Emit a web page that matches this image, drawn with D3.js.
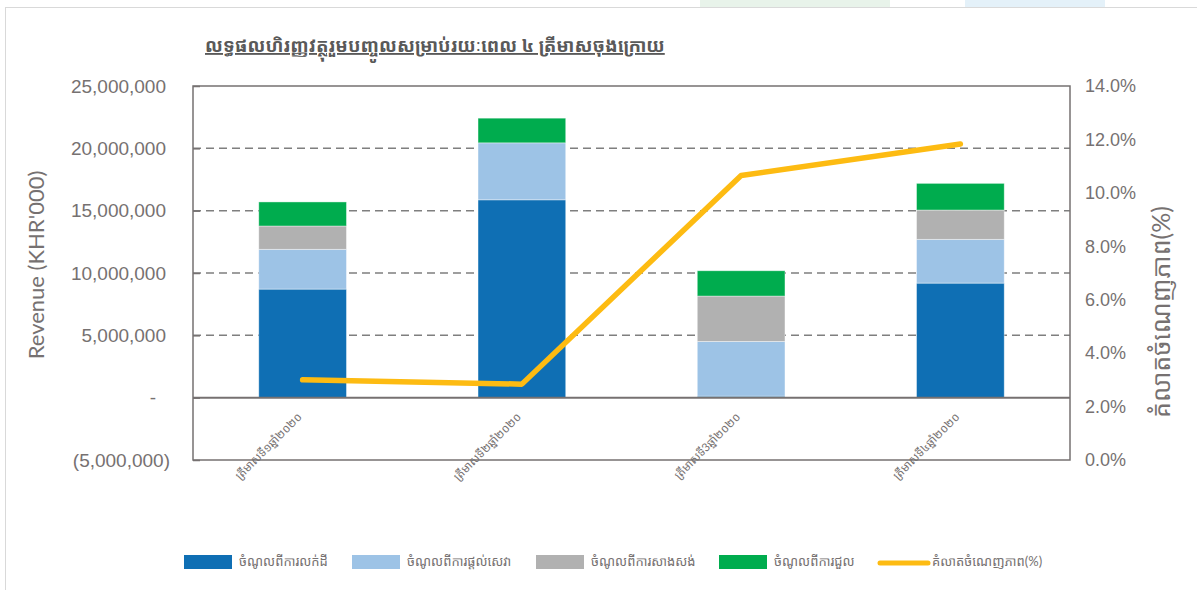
<!DOCTYPE html>
<html>
<head>
<meta charset="utf-8">
<script src="https://cdn.jsdelivr.net/npm/d3@7"></script>
<style>
  body { margin: 0; background: #fff; }
  svg { display: block; font-family: Lato, "Open Sans", "Noto Sans", "Noto Sans Khmer", sans-serif; }
</style>
</head>
<body>
<svg id="chart" width="1197" height="590"></svg>
<script>
// quarters
const quarters = ["ត្រីមាសទី១ឆ្នាំ២០២០", "ត្រីមាសទី២ឆ្នាំ២០២០", "ត្រីមាសទី3ឆ្នាំ២០២០", "ត្រីមាសទី៤ឆ្នាំ២០២០"];

// revenue series (KHR'000)
const seriesNames = ["ចំណូលពីការលក់ដី", "ចំណូលពីការផ្តល់សេវា", "ចំណូលពីការសាងសង់", "ចំណូលពីការជួល"];
const landSales = [8710000, 15870000, 120000, 9190000];
const services = [3190000, 4570000, 4390000, 3510000];
const construction = [1870000, 0, 3640000, 2350000];
const rental = [1930000, 1980000, 2030000, 2140000];
const seriesColors = ["#0f6fb4", "#9dc3e6", "#b1b1b1", "#00ac4e"];

// margin line (%)
const lineName = "គំលាតចំណេញភាព(%)";
const margins = [0.030, 0.0284, 0.1065, 0.1183];

const leftTicks = [-5000000, 0, 5000000, 10000000, 15000000, 20000000, 25000000];
const rightTicks = [0, 0.02, 0.04, 0.06, 0.08, 0.10, 0.12, 0.14];

const svg = d3.select("#chart");
const textCol = "#767171";

// background decoration + card frame
svg.append("rect").attr("x", 700).attr("y", 0).attr("width", 190).attr("height", 7).attr("fill", "#e8f3ea");
svg.append("rect").attr("x", 965).attr("y", 0).attr("width", 140).attr("height", 7).attr("fill", "#e4f1f9");
svg.append("rect").attr("x", 5.5).attr("y", 7.5).attr("width", 1200).attr("height", 600)
  .attr("fill", "#fff").attr("stroke", "#d9d9d9");

const L = 193, R = 1070, T = 86, B = 460;

const x = d3.scaleBand().domain(quarters).range([L, R]).paddingInner(0.6).paddingOuter(0.3);
const y = d3.scaleLinear().domain([-5000000, 25000000]).range([B, T]);
const y2 = d3.scaleLinear().domain([0, 0.14]).range([B, T]);

// gridlines
svg.append("g")
  .selectAll("line")
  .data(leftTicks.filter(d => d > 0 && d < 25000000))
  .join("line")
  .attr("x1", L).attr("x2", R)
  .attr("y1", d => y(d)).attr("y2", d => y(d))
  .attr("stroke", "#7f7f7f").attr("stroke-width", 1.5).attr("stroke-dasharray", "8,5");

// frame
svg.append("rect").attr("x", L).attr("y", T).attr("width", R - L).attr("height", B - T)
  .attr("fill", "none").attr("stroke", "#767171").attr("stroke-width", 1.5);

// stacked bars
const rows = quarters.map((q, i) => ({ q, a: landSales[i], b: services[i], c: construction[i], d: rental[i] }));
const stack = d3.stack().keys(["a", "b", "c", "d"]);
const layers = stack(rows);

svg.append("g")
  .selectAll("g")
  .data(layers)
  .join("g")
  .attr("fill", (d, i) => seriesColors[i])
  .selectAll("rect")
  .data(d => d)
  .join("rect")
  .attr("x", d => x(d.data.q))
  .attr("width", x.bandwidth())
  .attr("y", d => y(d[1]))
  .attr("height", d => Math.max(0, y(d[0]) - y(d[1])))
  .attr("stroke", "#ffffff").attr("stroke-opacity", 0.5).attr("stroke-width", 0.8);

// zero line
svg.append("line").attr("x1", L).attr("x2", R).attr("y1", y(0)).attr("y2", y(0))
  .attr("stroke", "#767171").attr("stroke-width", 2);

// left axis
const leftAxis = svg.append("g")
  .attr("transform", `translate(${L},0)`)
  .call(d3.axisLeft(y).tickValues(leftTicks).tickSize(-7).tickPadding(27)
    .tickFormat(d => d === 0 ? "-" : d < 0 ? `(${d3.format(",")(-d)})` : d3.format(",")(d)));
leftAxis.select(".domain").remove();
leftAxis.selectAll("line").attr("stroke", "#767171").attr("stroke-width", 1.5);
leftAxis.selectAll("text")
  .attr("fill", textCol).style("font-size", "19px")
  .attr("dx", d => d === 0 ? -10 : d < 0 ? 4 : 0);

// right axis
const rightAxis = svg.append("g")
  .attr("transform", `translate(${R},0)`)
  .call(d3.axisRight(y2).tickValues(rightTicks).tickSize(0).tickPadding(15)
    .tickFormat(d3.format(".1%")));
rightAxis.select(".domain").remove();
rightAxis.selectAll("text").attr("fill", textCol).style("font-size", "18px");

// x labels
svg.append("g")
  .selectAll("text")
  .data(quarters)
  .join("text")
  .attr("transform", d => `translate(${x(d) + x.bandwidth() / 2},${y(0) + 20}) rotate(-45)`)
  .attr("text-anchor", "end")
  .attr("fill", textCol)
  .style("font-size", "11.5px")
  .text(d => d);

// margin line
const line = d3.line()
  .x((d, i) => x(quarters[i]) + x.bandwidth() / 2)
  .y(d => y2(d));
svg.append("path").datum(margins)
  .attr("d", line)
  .attr("fill", "none").attr("stroke", "#fdbb12").attr("stroke-width", 5.5)
  .attr("stroke-linecap", "round").attr("stroke-linejoin", "round");

// axis titles
svg.append("text")
  .attr("transform", `translate(44,${(T + B) / 2 - 8}) rotate(-90)`)
  .attr("text-anchor", "middle").attr("fill", textCol).style("font-size", "22px")
  .text("Revenue (KHR'000)");

svg.append("text")
  .attr("transform", `translate(1170,312) rotate(-90)`)
  .attr("text-anchor", "middle").attr("fill", textCol).style("font-size", "25px")
  .text(lineName);

// title
svg.append("text")
  .attr("x", 205).attr("y", 52)
  .attr("fill", "#595959").style("font-size", "18.5px").style("font-weight", "bold")
  .style("text-decoration", "underline")
  .text("លទ្ធផលហិរញ្ញវត្ថុរួមបញ្ចូលសម្រាប់រយៈពេល ៤ ត្រីមាសចុងក្រោយ");

// legend
const legendX = [184, 352, 536, 719];
const lg = svg.append("g");
seriesNames.forEach((name, i) => {
  lg.append("rect").attr("x", legendX[i]).attr("y", 555).attr("width", 48).attr("height", 14)
    .attr("fill", seriesColors[i]);
  lg.append("text").attr("x", legendX[i] + 55).attr("y", 566)
    .attr("fill", textCol).style("font-size", "13px").text(name);
});
lg.append("line").attr("x1", 880).attr("x2", 928).attr("y1", 563).attr("y2", 563)
  .attr("stroke", "#fdbb12").attr("stroke-width", 5).attr("stroke-linecap", "round");
lg.append("text").attr("x", 932).attr("y", 566)
  .attr("fill", textCol).style("font-size", "13px").text(lineName);
</script>
</body>
</html>
